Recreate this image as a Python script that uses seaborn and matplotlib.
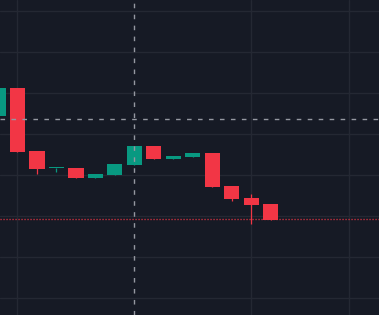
import matplotlib
matplotlib.use("Agg")
import matplotlib.pyplot as plt
import seaborn as sns
import numpy as np
import pandas as pd

# OHLC data (arbitrary price units)
index = list(range(15))
opens = [124.5, 131.2, 115.9, 111.6, 111.7, 109.3, 110.0, 112.4, 117.1, 113.9, 114.4, 115.4, 107.3, 104.4, 102.9]
highs = [131.2, 131.2, 115.9, 111.7, 111.7, 110.2, 112.7, 117.1, 117.1, 114.6, 115.4, 115.4, 107.3, 105.4, 102.9]
lows = [124.5, 115.7, 110.3, 110.8, 109.3, 109.3, 110.0, 112.4, 113.9, 113.9, 114.4, 107.1, 103.7, 98.0, 99.0]
closes = [131.2, 115.7, 111.5, 111.7, 109.3, 110.2, 112.7, 117.1, 113.9, 114.6, 115.4, 107.1, 104.1, 102.7, 99.0]

last_price_line = 99.15
crosshair_x = 7
crosshair_y = 123.6
grid_x = [1, 13, 18]
grid_y = [80, 90, 100, 110, 120, 130, 140, 150]

BG = "#161A25"
GRID = "#242833"
UP = "#089981"
DOWN = "#F23645"
CROSS = "#9598A1"

sns.set_theme(style="dark", rc={"axes.facecolor": BG, "figure.facecolor": BG})
plt.rcParams["lines.scale_dashes"] = False

df = pd.DataFrame({"i": index, "open": opens, "high": highs, "low": lows, "close": closes})
df["up"] = df["close"] >= df["open"]
df["color"] = np.where(df["up"], UP, DOWN)
df["bottom"] = df[["open", "close"]].min(axis=1)
df["height"] = (df["close"] - df["open"]).abs().clip(lower=0.25)

fig = plt.figure(figsize=(3.79, 3.15), dpi=100)
ax = fig.add_axes([0, 0, 1, 1])
ax.set_facecolor(BG)

for gx in grid_x:
    ax.axvline(gx, color=GRID, lw=1, zorder=0)
for gy in grid_y:
    ax.axhline(gy, color=GRID, lw=1, zorder=0)

# wicks
ax.vlines(df["i"], df["low"], df["high"], colors=df["color"], lw=0.9, zorder=2)
# bodies
ax.bar(df["i"], df["height"], bottom=df["bottom"], width=0.77, color=df["color"], linewidth=0, zorder=3)

# last price dotted line (1px dot, 2px gap)
ax.axhline(last_price_line, color=DOWN, lw=0.95, linestyle=(0, (0.8, 1.36)),
           dash_capstyle="butt", zorder=4)

# crosshair
ax.axvline(crosshair_x, color=CROSS, lw=1, linestyle=(0, (3.3, 4.6)), zorder=5)
ax.axhline(crosshair_y, color=CROSS, lw=1, linestyle=(0, (3.3, 4.6)), zorder=5)

ax.set_xlim(0.1026, 19.54)
ax.set_ylim(75.85, 152.7)
ax.set_xticks([])
ax.set_yticks([])
for s in ax.spines.values():
    s.set_visible(False)

fig.savefig("out.png", dpi=100, facecolor=BG)
